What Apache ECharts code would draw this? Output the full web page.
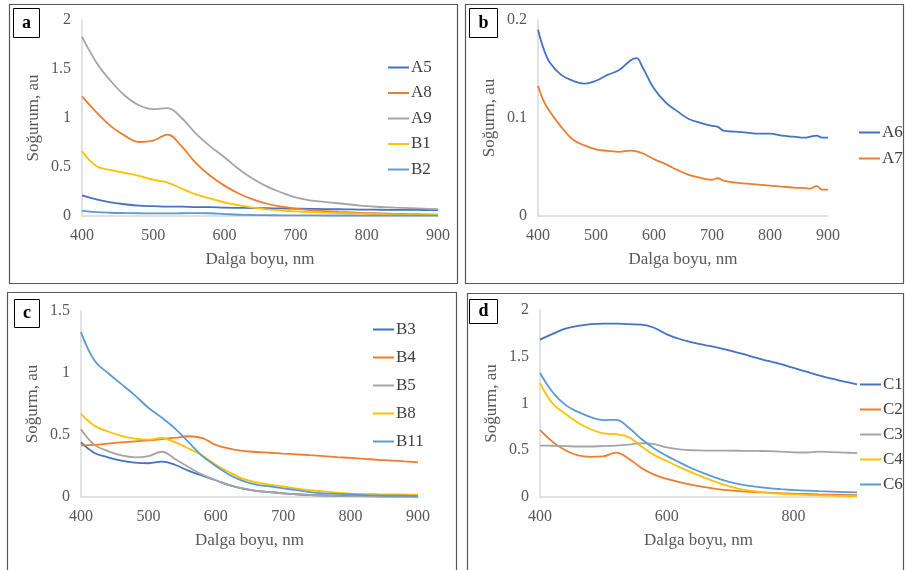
<!DOCTYPE html>
<html>
<head>
<meta charset="utf-8">
<title>Soğurum</title>
<script src="https://cdn.jsdelivr.net/npm/echarts@6/dist/echarts.min.js"></script>
<style>
html, body { margin: 0; padding: 0; background: #fff; }
#main { width: 905px; height: 570px; }
</style>
</head>
<body>
<div id="main"></div>
<script>
// dalga boyu (nm)
var wl = [400,420,440,460,480,500,520,540,560,580,600,620,640,660,680,700,720,740,760,780,800,820,840,860,880,900];
var wlB = [400,410,420,440,460,480,500,520,540,560,570,580,600,620,640,660,680,700,710,720,740,760,780,800,820,840,860,870,880,890,900];

// a
var a5 = [0.21,0.17,0.14,0.12,0.105,0.10,0.095,0.095,0.09,0.09,0.085,0.083,0.081,0.079,0.077,0.075,0.073,0.071,0.069,0.067,0.065,0.064,0.063,0.062,0.061,0.06];
var a8 = [1.22,1.06,0.92,0.82,0.755,0.77,0.83,0.71,0.54,0.41,0.31,0.23,0.17,0.125,0.095,0.075,0.06,0.05,0.042,0.036,0.03,0.026,0.022,0.02,0.017,0.015];
var a9 = [1.83,1.57,1.38,1.23,1.13,1.09,1.10,1.00,0.84,0.71,0.60,0.48,0.38,0.30,0.24,0.19,0.16,0.145,0.13,0.115,0.10,0.092,0.085,0.08,0.075,0.07];
var b1 = [0.66,0.51,0.47,0.44,0.41,0.37,0.34,0.28,0.22,0.18,0.14,0.11,0.085,0.068,0.056,0.047,0.04,0.034,0.03,0.026,0.022,0.019,0.016,0.014,0.012,0.01];
var b2 = [0.055,0.04,0.033,0.03,0.028,0.027,0.027,0.028,0.03,0.028,0.02,0.013,0.01,0.008,0.007,0.006,0.006,0.005,0.005,0.005,0.004,0.004,0.004,0.004,0.003,0.003];

// b
var a6 = [0.190,0.170,0.157,0.144,0.138,0.135,0.138,0.144,0.149,0.159,0.161,0.152,0.130,0.116,0.107,0.099,0.095,0.092,0.091,0.087,0.086,0.085,0.084,0.084,0.082,0.081,0.080,0.081,0.082,0.080,0.080];
var a7 = [0.133,0.117,0.107,0.091,0.078,0.072,0.068,0.0665,0.0655,0.0667,0.066,0.064,0.058,0.053,0.047,0.042,0.039,0.037,0.0385,0.036,0.034,0.033,0.032,0.031,0.030,0.029,0.0285,0.028,0.0305,0.027,0.027];

// c
var b3 = [0.44,0.355,0.32,0.293,0.277,0.272,0.285,0.258,0.21,0.172,0.135,0.095,0.068,0.05,0.04,0.03,0.022,0.016,0.012,0.01,0.008,0.007,0.006,0.005,0.005,0.004];
var b4 = [0.415,0.42,0.43,0.44,0.448,0.457,0.467,0.478,0.49,0.475,0.42,0.39,0.372,0.363,0.357,0.35,0.344,0.337,0.33,0.322,0.315,0.308,0.30,0.294,0.287,0.28];
var b5 = [0.546,0.42,0.37,0.335,0.32,0.33,0.365,0.305,0.24,0.18,0.135,0.095,0.07,0.05,0.04,0.03,0.022,0.016,0.012,0.009,0.007,0.006,0.005,0.004,0.004,0.003];
var b8 = [0.67,0.575,0.528,0.493,0.47,0.463,0.476,0.44,0.39,0.335,0.26,0.2,0.148,0.118,0.1,0.085,0.068,0.055,0.045,0.035,0.028,0.024,0.022,0.021,0.02,0.019];
var b11 = [1.33,1.1,1.0,0.91,0.82,0.72,0.64,0.55,0.44,0.33,0.25,0.18,0.13,0.1,0.085,0.07,0.055,0.04,0.03,0.025,0.02,0.015,0.013,0.01,0.01,0.008];

// d
var c1 = [1.683,1.745,1.80,1.83,1.85,1.855,1.855,1.848,1.843,1.81,1.74,1.69,1.655,1.625,1.598,1.565,1.53,1.49,1.455,1.42,1.38,1.34,1.30,1.265,1.235,1.205];
var c2 = [0.718,0.59,0.50,0.445,0.43,0.435,0.475,0.41,0.31,0.24,0.195,0.16,0.13,0.105,0.085,0.07,0.06,0.052,0.046,0.04,0.036,0.032,0.028,0.025,0.023,0.021];
var c3 = [0.55,0.548,0.545,0.54,0.54,0.545,0.55,0.56,0.575,0.565,0.53,0.51,0.50,0.497,0.495,0.495,0.494,0.493,0.49,0.485,0.478,0.476,0.485,0.48,0.475,0.47];
var c4 = [1.218,1.0,0.89,0.795,0.725,0.68,0.672,0.64,0.54,0.45,0.385,0.32,0.26,0.205,0.155,0.11,0.08,0.06,0.045,0.035,0.028,0.022,0.017,0.014,0.011,0.01];
var c6 = [1.326,1.12,0.985,0.91,0.855,0.823,0.825,0.74,0.62,0.52,0.44,0.37,0.305,0.25,0.2,0.16,0.13,0.11,0.095,0.084,0.075,0.068,0.062,0.057,0.053,0.05];

var blue = '#4472C4', orange = '#ED7D31', gray = '#A5A5A5', yellow = '#FFC000', lblue = '#5B9BD5';
var font = '"Liberation Serif", "Times New Roman", serif';
var txt = '#595959';

function pairs(xs, ys) {
	return xs.map(function(x, i) { return [x, ys[i]]; });
}

function line(name, idx, xs, ys, color) {
	return {
		name : name,
		type : 'line',
		xAxisIndex : idx,
		yAxisIndex : idx,
		data : pairs(xs, ys),
		smooth : 0.4,
		showSymbol : false,
		symbol : 'none',
		lineStyle : { color : color, width : 1.8 },
		itemStyle : { color : color }
	};
}

function xAx(idx, interval, hideMax) {
	return {
		type : 'value',
		gridIndex : idx,
		min : 400,
		max : 900,
		interval : interval,
		name : 'Dalga boyu, nm',
		nameLocation : 'middle',
		nameGap : 35,
		nameTextStyle : { fontFamily : font, fontSize : 17, color : txt },
		axisLine : { show : true, lineStyle : { color : '#D9D9D9', width : 1.5 } },
		axisTick : { show : false },
		splitLine : { show : false },
		axisLabel : { fontFamily : font, fontSize : 16, color : txt, margin : 12, showMaxLabel : !hideMax }
	};
}

function yAx(idx, max, interval, name) {
	return {
		type : 'value',
		gridIndex : idx,
		min : 0,
		max : max,
		interval : interval,
		name : name,
		nameLocation : 'middle',
		nameRotate : 90,
		nameGap : 40,
		nameTextStyle : { fontFamily : font, fontSize : 17, color : txt },
		axisLine : { show : true, lineStyle : { color : '#D9D9D9', width : 1.5 } },
		axisTick : { show : false },
		splitLine : { show : false },
		axisLabel : { fontFamily : font, fontSize : 16, color : txt, margin : 11 }
	};
}

function legend(data, left, top, gap) {
	return {
		data : data,
		orient : 'vertical',
		left : left,
		top : top,
		padding : 0,
		itemGap : gap,
		itemWidth : 21,
		itemHeight : 2,
		icon : 'rect',
		textStyle : { fontFamily : font, fontSize : 17, color : '#404040', padding : [0, 0, 0, -3] }
	};
}

function box(x, y, w, h) {
	return {
		type : 'rect',
		shape : { x : x, y : y, width : w, height : h },
		style : { fill : 'none', stroke : '#595959', lineWidth : 1.2 },
		silent : true
	};
}

function tag(x, y, w, h, t) {
	return {
		type : 'group',
		silent : true,
		children : [
			{ type : 'rect', shape : { x : x, y : y, width : w, height : h },
				style : { fill : '#fff', stroke : '#000', lineWidth : 1 } },
			{ type : 'text', x : x + w / 2, y : y + h / 2,
				style : { text : t, font : 'bold 18px ' + font, fill : '#000', align : 'center', verticalAlign : 'middle' } }
		]
	};
}

var myChart = echarts.init(document.getElementById('main'));

var option = {
	backgroundColor : '#fff',
	animation : false,
	graphic : [
		box(9.5, 4.5, 448, 279),
		box(465.5, 4.5, 438, 279),
		box(7.5, 292.5, 449, 290),
		box(467.5, 293.5, 436, 290),
		tag(13.5, 8.5, 26, 29, 'a'),
		tag(469.5, 8.5, 28, 29, 'b'),
		tag(14.5, 299.5, 25, 28, 'c'),
		tag(469.5, 299.5, 28, 24, 'd')
	],
	grid : [
		{ left : 82, top : 20, width : 356, height : 196 },
		{ left : 538, top : 20, width : 290, height : 196 },
		{ left : 81, top : 311, width : 337, height : 186 },
		{ left : 540, top : 310, width : 317, height : 187 }
	],
	xAxis : [ xAx(0, 100), xAx(1, 100), xAx(2, 100), xAx(3, 200, true) ],
	yAxis : [
		yAx(0, 2, 0.5, 'Soğurum, au'),
		yAx(1, 0.2, 0.1, 'Soğurm, au'),
		yAx(2, 1.5, 0.5, 'Soğurm, au'),
		yAx(3, 2, 0.5, 'Soğurm, au')
	],
	legend : [
		legend([ 'A5', 'A8', 'A9', 'B1', 'B2' ], 388, 59, 8.5),
		legend([ 'A6', 'A7' ], 859, 124, 9),
		legend([ 'B3', 'B4', 'B5', 'B8', 'B11' ], 373, 321, 11),
		legend([ 'C1', 'C2', 'C3', 'C4', 'C6' ], 860, 376, 8)
	],
	series : [
		line('A5', 0, wl, a5, blue),
		line('A8', 0, wl, a8, orange),
		line('A9', 0, wl, a9, gray),
		line('B1', 0, wl, b1, yellow),
		line('B2', 0, wl, b2, lblue),
		line('A6', 1, wlB, a6, blue),
		line('A7', 1, wlB, a7, orange),
		line('B3', 2, wl, b3, blue),
		line('B4', 2, wl, b4, orange),
		line('B5', 2, wl, b5, gray),
		line('B8', 2, wl, b8, yellow),
		line('B11', 2, wl, b11, lblue),
		line('C1', 3, wl, c1, blue),
		line('C2', 3, wl, c2, orange),
		line('C3', 3, wl, c3, gray),
		line('C4', 3, wl, c4, yellow),
		line('C6', 3, wl, c6, lblue)
	]
};
myChart.setOption(option);
</script>
</body>
</html>
